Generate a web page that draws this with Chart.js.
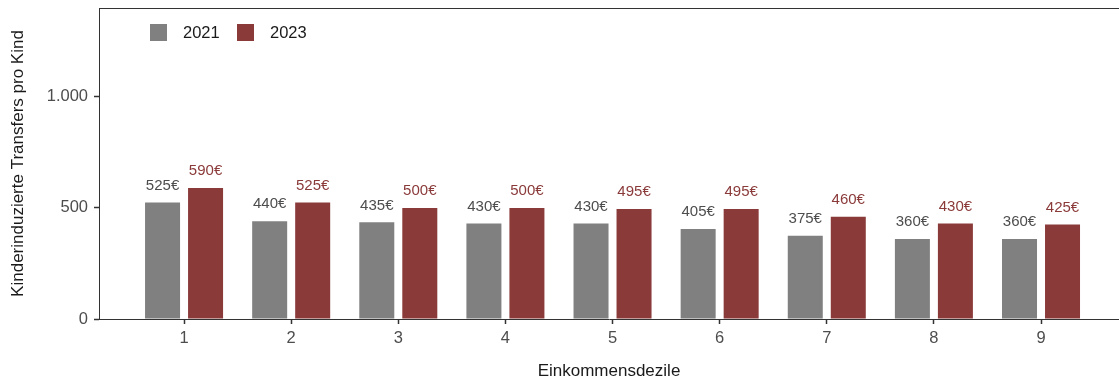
<!DOCTYPE html>
<html lang="de">
<head>
  <meta charset="UTF-8">
  <title>Kinderinduzierte Transfers</title>
  <script src="https://cdn.jsdelivr.net/npm/chart.js"></script>
  <style>
    html, body { margin: 0; padding: 0; background: #fff; }
    #wrap { width: 1119px; height: 382px; }
  </style>
</head>
<body>
  <div id="wrap"><canvas id="chart" width="1119" height="382"></canvas></div>

  <script>
    const deciles = [1, 2, 3, 4, 5, 6, 7, 8, 9];
    const values2021 = [525, 440, 435, 430, 430, 405, 375, 360, 360];
    const values2023 = [590, 525, 500, 500, 495, 495, 460, 430, 425];
    const seriesNames = ['2021', '2023'];
    const seriesColors = ['#808080', '#8B3A3A'];
    const labelColors = ['#4D4D4D', '#8B3A3A'];

    const fontFamily = '"Liberation Sans", Arial, Helvetica, sans-serif';

    // value labels above each bar
    const barLabels = {
      id: 'barLabels',
      afterDatasetsDraw(chart) {
        const ctx = chart.ctx;
        ctx.save();
        ctx.font = '15px ' + fontFamily;
        ctx.textAlign = 'center';
        ctx.textBaseline = 'middle';
        chart.data.datasets.forEach((ds, i) => {
          chart.getDatasetMeta(i).data.forEach((bar, j) => {
            ctx.fillStyle = labelColors[i];
            ctx.fillText(ds.data[j].y + '€', bar.x, bar.y - 17);
          });
        });
        ctx.restore();
      }
    };

    // top panel line + legend inside the plot
    const frameAndLegend = {
      id: 'frameAndLegend',
      afterDraw(chart) {
        const ctx = chart.ctx;
        const area = chart.chartArea;
        ctx.save();
        ctx.strokeStyle = '#333333';
        ctx.lineWidth = 1;
        ctx.beginPath();
        ctx.moveTo(area.left, area.top + 0.5);
        ctx.lineTo(area.right, area.top + 0.5);
        ctx.stroke();

        ctx.font = '16.5px ' + fontFamily;
        ctx.textBaseline = 'middle';
        ctx.textAlign = 'left';
        const xs = [150, 237];
        seriesNames.forEach((name, i) => {
          ctx.fillStyle = seriesColors[i];
          ctx.fillRect(xs[i], 24, 17, 17);
          ctx.fillStyle = '#1A1A1A';
          ctx.fillText(name, xs[i] + 33, 33);
        });
        ctx.restore();
      }
    };

    const ctx = document.getElementById('chart').getContext('2d');
    new Chart(ctx, {
      type: 'bar',
      data: {
        datasets: seriesNames.map((name, i) => ({
          label: name,
          data: deciles.map((d, j) => ({ x: d, y: (i === 0 ? values2021 : values2023)[j] })),
          backgroundColor: seriesColors[i],
          borderWidth: 0,
          categoryPercentage: 0.803,
          barPercentage: 0.814
        }))
      },
      options: {
        responsive: false,
        animation: false,
        devicePixelRatio: 1,
        layout: { padding: { top: 8, right: 0, left: 0, bottom: 0 } },
        plugins: {
          legend: { display: false },
          tooltip: { enabled: false }
        },
        scales: {
          x: {
            type: 'linear',
            offset: false,
            min: 0.206,
            max: 9.728,
            afterFit: (scale) => {
              scale.height = 63;
              scale.paddingLeft = 0;
              scale.paddingRight = 0;
            },
            afterBuildTicks: (scale) => { scale.ticks = deciles.map(v => ({ value: v })); },
            ticks: {
              color: '#4D4D4D',
              font: { family: fontFamily, size: 16.5 },
              padding: 5,
              maxRotation: 0,
              callback: (v) => String(v)
            },
            grid: {
              offset: false,
              drawOnChartArea: false,
              drawTicks: true,
              tickLength: 5,
              tickWidth: 1.5,
              tickColor: '#333333'
            },
            border: { display: true, color: '#333333', width: 1 },
            title: {
              display: true,
              text: 'Einkommensdezile',
              color: '#1A1A1A',
              font: { family: fontFamily, size: 17 },
              padding: { top: 0, bottom: 0 }
            }
          },
          y: {
            min: 0,
            max: 1400,
            afterFit: (scale) => {
              scale.width = 99;
              scale.paddingTop = 0;
              scale.paddingBottom = 0;
            },
            afterBuildTicks: (scale) => { scale.ticks = [0, 500, 1000].map(v => ({ value: v })); },
            ticks: {
              color: '#4D4D4D',
              font: { family: fontFamily, size: 16.5 },
              padding: 6,
              callback: (v) => v.toLocaleString('de-DE')
            },
            grid: {
              drawOnChartArea: false,
              drawTicks: true,
              tickLength: 5,
              tickWidth: 1.5,
              tickColor: '#333333'
            },
            border: { display: true, color: '#333333', width: 1 },
            title: {
              display: true,
              text: 'Kinderinduzierte Transfers pro Kind',
              color: '#1A1A1A',
              font: { family: fontFamily, size: 17 },
              padding: { top: 8, bottom: 0 }
            }
          }
        }
      },
      plugins: [barLabels, frameAndLegend]
    });
  </script>
</body>
</html>
